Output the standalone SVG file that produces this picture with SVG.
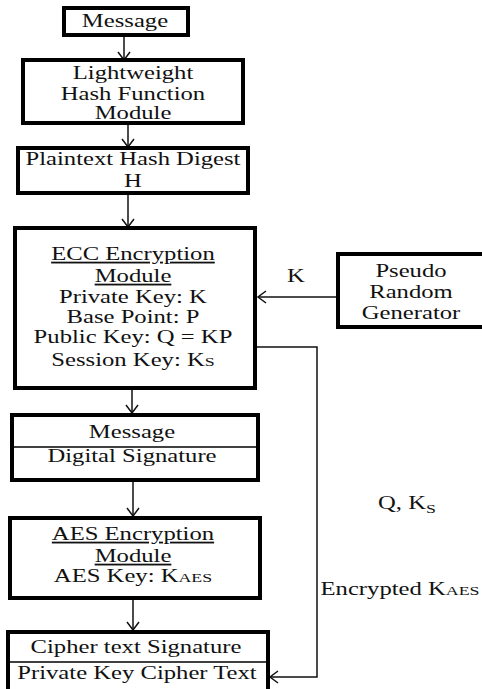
<svg xmlns="http://www.w3.org/2000/svg" width="482" height="689" viewBox="0 0 482 689">
  <defs>
    <marker id="arrow" markerUnits="userSpaceOnUse" markerWidth="20" markerHeight="20" viewBox="-10 -10 20 20" refX="0" refY="0" orient="auto">
      <path d="M-8,-6 L0,0 L-8,6" fill="none" stroke="#111" stroke-width="1.5"/>
    </marker>
  </defs>
  <style>
    .box { fill: #fff; stroke: #000; stroke-width: 4; }
    .div { stroke: #000; stroke-width: 1.5; }
    .t { font-family: "Liberation Serif", "Times New Roman", serif; font-size: 18px; fill: #111; text-anchor: middle;
         transform-box: fill-box; transform-origin: center; transform: scaleX(1.37); }
    .u { text-decoration: underline; }
    .sm { font-size: 13px; }
    .edge { fill: none; stroke: #111; stroke-width: 1.5; marker-end: url(#arrow); }
  </style>
  <rect width="482" height="689" fill="#fff"/>

  <g id="connectors">
    <line class="edge" x1="124" y1="35" x2="124" y2="60"/>
    <line class="edge" x1="128" y1="123" x2="128" y2="147"/>
    <line class="edge" x1="128" y1="193" x2="128" y2="227"/>
    <line class="edge" x1="338" y1="297" x2="258" y2="297"/>
    <line class="edge" x1="132" y1="388" x2="132" y2="413"/>
    <line class="edge" x1="133" y1="480" x2="133" y2="516"/>
    <line class="edge" x1="133" y1="598" x2="133" y2="630"/>
    <polyline class="edge" points="257,347 317,347 317,677 270,677"/>
  </g>

  <g id="message">
    <rect class="box" x="64" y="8" width="124" height="27"/>
    <text class="t" x="125" y="27">Message</text>
  </g>

  <g id="hash-module">
    <rect class="box" x="23" y="60" width="220" height="63"/>
    <text class="t" x="133" y="79">Lightweight</text>
    <text class="t" x="133" y="100">Hash Function</text>
    <text class="t" x="133" y="119">Module</text>
  </g>

  <g id="hash-digest">
    <rect class="box" x="18" y="148" width="230" height="45"/>
    <text class="t" x="133" y="165">Plaintext Hash Digest</text>
    <text class="t" x="133" y="187">H</text>
  </g>

  <g id="ecc-module">
    <rect class="box" x="15" y="228" width="240" height="160"/>
    <text class="t u" x="133" y="260">ECC Encryption</text>
    <text class="t u" x="133" y="282">Module</text>
    <text class="t" x="133" y="303">Private Key: K</text>
    <text class="t" x="133" y="323">Base Point: P</text>
    <text class="t" x="133" y="343">Public Key: Q = KP</text>
    <text class="t" x="133" y="366">Session Key: K<tspan class="sm">S</tspan></text>
  </g>

  <g id="prng">
    <rect class="box" x="338" y="254" width="150" height="73"/>
    <text class="t" x="411" y="277">Pseudo</text>
    <text class="t" x="411" y="298">Random</text>
    <text class="t" x="411" y="319">Generator</text>
  </g>

  <g id="signature">
    <rect class="box" x="12" y="415" width="246" height="65"/>
    <line class="div" x1="12" y1="447" x2="258" y2="447"/>
    <text class="t" x="132" y="438">Message</text>
    <text class="t" x="132" y="462">Digital Signature</text>
  </g>

  <g id="aes-module">
    <rect class="box" x="10" y="518" width="250" height="80"/>
    <text class="t u" x="133" y="540">AES Encryption</text>
    <text class="t u" x="133" y="562">Module</text>
    <text class="t" x="133" y="582">AES Key: K<tspan class="sm">AES</tspan></text>
  </g>

  <g id="cipher">
    <rect class="box" x="8" y="632" width="260" height="62"/>
    <line class="div" x1="8" y1="662" x2="268" y2="662"/>
    <text class="t" x="136" y="653">Cipher text Signature</text>
    <text class="t" x="137" y="679">Private Key Cipher Text</text>
  </g>

  <g id="labels">
    <text class="t" x="296" y="282">K</text>
    <text class="t" x="407" y="509">Q, K<tspan class="sm" dy="4">S</tspan></text>
    <text class="t" x="400" y="595">Encrypted K<tspan class="sm">AES</tspan></text>
  </g>
</svg>
